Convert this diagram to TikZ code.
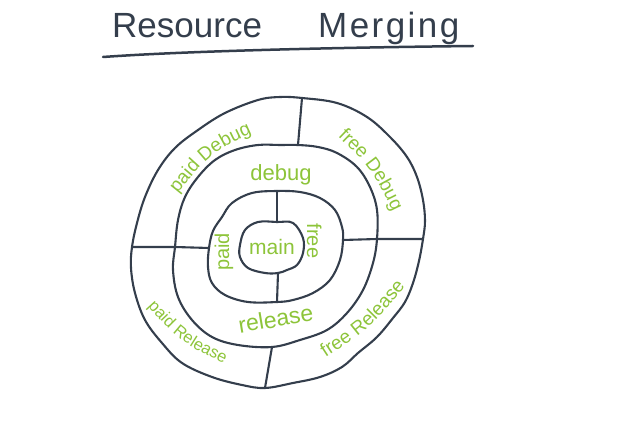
\documentclass[tikz,border=0pt]{standalone}
\usepackage{fontspec}
\setmainfont{Liberation Sans}
\usetikzlibrary{decorations.text}
\definecolor{ink}{RGB}{52,62,76}
\definecolor{leaf}{RGB}{141,196,58}
\begin{document}
\begin{tikzpicture}[x=1pt,y=-1pt,
  ring/.style={draw=ink, line width=2.1pt, line join=round},
  divider/.style={draw=ink, line width=2.1pt, line cap=round, line join=round},
  lbl/.style={text=leaf, inner sep=0pt, anchor=base},
  ttl/.style={text=ink, inner sep=0pt, anchor=base west, font=\fontsize{35}{35}\selectfont},
  arclabel/.style={decorate, decoration={text along path, text align=center, text color=leaf, text={#1}}}]
\useasboundingbox (0,0) rectangle (622,438);
% title
\node[ttl] (t1) at (112,38) {Resource};
\node[ttl, font=\fontsize{35}{35}\selectfont\addfontfeatures{LetterSpace=7}] (t2) at (318,38) {Merging};
\coordinate (u1) at (103,57);
\coordinate (u2) at (473,46);
\draw[divider, line width=2.5pt] (u1) .. controls (200,50) and (380,47) .. (u2);
% rings (hand-drawn outlines)
\draw[ring] plot[smooth cycle, tension=0.6] coordinates {
 (280,97) (302,98) (337,103) (367,117) (390,137) (407,157) (417,177) (423,200)
 (425,221) (423,239) (419,261) (413,283) (405,302) (393,318) (377,337) (358,353)
 (342,367) (320,377) (293,383) (265,388) (242,385) (212,377) (182,363) (162,343)
 (145,320) (135,293) (131,268) (132,247) (137,223) (145,197) (158,170) (175,148)
 (198,130) (225,113) (258,100)};
\draw[ring] plot[smooth cycle, tension=0.6] coordinates {
 (280,145) (298,145) (318,147) (337,153) (357,167) (370,187) (377,210) (377,239)
 (373,263) (363,290) (347,313) (327,330) (300,340) (272,347) (238,345) (212,337)
 (192,320) (178,297) (173,270) (175,247) (178,220) (185,197) (198,177) (215,160)
 (235,150) (258,145)};
\draw[ring] plot[smooth cycle, tension=0.6] coordinates {
 (277,191) (300,192) (320,198) (335,210) (342,227) (343,240) (340,260) (330,280)
 (313,293) (293,300) (277,302) (248,302) (225,295) (212,283) (208,267) (209,248)
 (213,231) (222,217) (232,203) (252,193)};
\draw[ring] plot[smooth cycle, tension=0.6] coordinates {
 (277,222) (293,223) (303,238) (303,253) (297,265) (287,270) (278,273) (265,273)
 (248,268) (240,257) (240,245) (245,230) (258,222)};
% divider end points (on the rings)
\coordinate (oT) at (302,98);   \coordinate (mT) at (298,145);
\coordinate (oL) at (132,247);  \coordinate (mL) at (175,247);  \coordinate (iL) at (209,248);
\coordinate (iR) at (343,240);  \coordinate (mR) at (377,239);  \coordinate (oR) at (423,239);
\coordinate (iT) at (277,191);  \coordinate (cT) at (277,222);
\coordinate (cB) at (278,273);  \coordinate (iB) at (277,302);
\coordinate (mB) at (272,347);  \coordinate (oB) at (265,388);
% dividers
\draw[divider] (oT) -- (mT);
\draw[divider] (oL) -- (mL) -- (iL);
\draw[divider] (iR) -- (mR) -- (oR);
\draw[divider] (iT) -- (cT);
\draw[divider] (cB) -- (iB);
\draw[divider] (mB) -- (oB);
% straight labels
\node[lbl, font=\fontsize{21}{21}\selectfont] (lmain) at (272,255) {main};
\node[lbl, font=\fontsize{22}{22}\selectfont] (ldebug) at (281,181) {debug};
\node[lbl, font=\fontsize{23}{23}\selectfont, rotate=9.5] (lrelease) at (277,327) {release};
\node[lbl, font=\fontsize{20}{20}\selectfont, rotate=90] (lpaid) at (229,252) {paid};
\node[lbl, font=\fontsize{20}{20}\selectfont, rotate=-90] (lfree) at (307,241) {free};
% labels following the rings
\path[arclabel={|\fontsize{19}{19}\selectfont|paid Debug}] (166,208) .. controls (211,151) .. (269,126);
\path[arclabel={|\fontsize{19}{19}\selectfont|free Debug}] (329,128) .. controls (372,169) .. (398,223);
\path[arclabel={|\fontsize{16.5}{16.5}\selectfont|paid Release}] (140,298) .. controls (180,342) .. (234,369);
\path[arclabel={|\fontsize{19}{19}\selectfont|free Release}] (313,366) .. controls (371,328.5) .. (415,275);
\end{tikzpicture}
\end{document}
